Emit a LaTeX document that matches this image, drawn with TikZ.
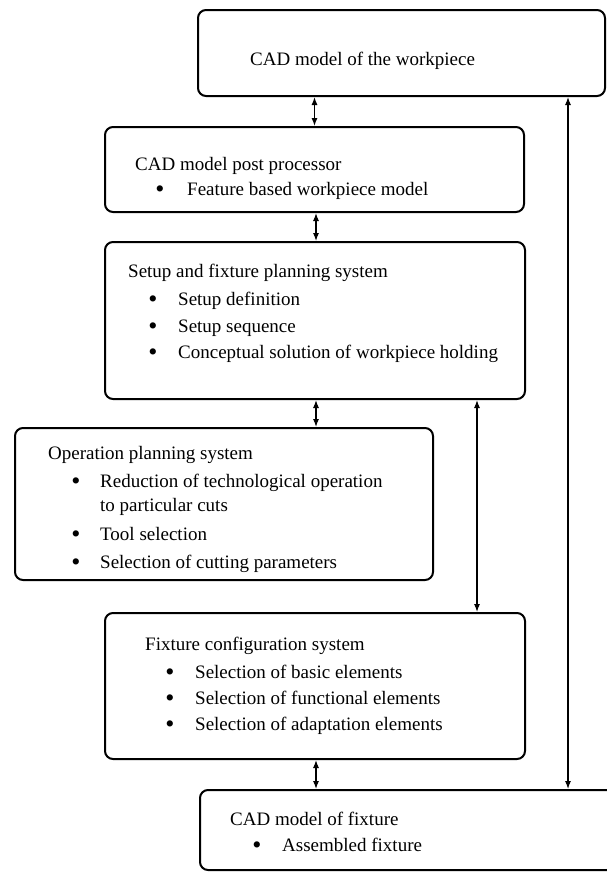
\documentclass[tikz,border=0pt]{standalone}
\usepackage{fontspec}
\setmainfont{Liberation Serif}
\usetikzlibrary{arrows.meta}
\begin{document}
\begin{tikzpicture}[x=1pt,y=-1pt,
  box/.style={draw, line width=2pt, rounded corners=8pt, inner sep=0pt, rectangle},
  txt/.style={anchor=base west, inner sep=0pt, font=\fontsize{19}{22}\selectfont},
  bul/.style={anchor=base, inner sep=0pt, font=\fontsize{26}{28}\selectfont, yshift=-2pt},
  dbl/.style={{Latex[length=8pt,width=6pt]}-{Latex[length=8pt,width=6pt]}, line width=1.1pt}]
\useasboundingbox (0,0) rectangle (607,873);
% boxes
\node[box, minimum width=407pt, minimum height=86pt] (A) at (401.5,53) {};
\node[box, minimum width=419pt, minimum height=85pt] (B) at (314.5,169.5) {};
\node[box, minimum width=420pt, minimum height=157pt] (C) at (315,320.5) {};
\node[box, minimum width=418pt, minimum height=152pt] (D) at (224,504) {};
\node[box, minimum width=420pt, minimum height=146pt] (E) at (315,686) {};
\node[box, minimum width=415pt, minimum height=80pt] (F) at (407.5,830) {};
% texts A
\node[txt] (a1) at (250,65) {CAD model of the workpiece};
% B
\node[txt] (b1) at (135,170) {CAD model post processor};
\node[bul] (bb1) at (160,195) {•};
\node[txt] (b2) at (187,195) {Feature based workpiece model};
% C
\node[txt] (c1) at (128,277) {Setup and fixture planning system};
\node[bul] (cb1) at (153,305) {•};
\node[txt] (c2) at (178,305) {Setup definition};
\node[bul] (cb2) at (153,332) {•};
\node[txt] (c3) at (178,332) {Setup sequence};
\node[bul] (cb3) at (153,358) {•};
\node[txt] (c4) at (178,358) {Conceptual solution of workpiece holding};
% D
\node[txt] (d1) at (48,459) {Operation planning system};
\node[bul] (db1) at (76,487) {•};
\node[txt] (d2) at (100,487) {Reduction of technological operation};
\node[txt] (d3) at (100,511) {to particular cuts};
\node[bul] (db2) at (76,540) {•};
\node[txt] (d4) at (100,540) {Tool selection};
\node[bul] (db3) at (76,568) {•};
\node[txt] (d5) at (100,568) {Selection of cutting parameters};
% E
\node[txt] (e1) at (145,650) {Fixture configuration system};
\node[bul] (eb1) at (170,678) {•};
\node[txt] (e2) at (195,678) {Selection of basic elements};
\node[bul] (eb2) at (170,704) {•};
\node[txt] (e3) at (195,704) {Selection of functional elements};
\node[bul] (eb3) at (170,730) {•};
\node[txt] (e4) at (195,730) {Selection of adaptation elements};
% F
\node[txt] (f1) at (230,825) {CAD model of fixture};
\node[bul] (fb1) at (257,851) {•};
\node[txt] (f2) at (282,851) {Assembled fixture};
% connectors
\draw[dbl] (A.south -| B.north) -- (B.north);
\draw[dbl] ([xshift=1.5pt]B.south) -- ([xshift=1.5pt]B.south |- C.north);
\draw[dbl] ([xshift=1pt]C.south) -- ([xshift=1pt]C.south |- D.north);
\draw[dbl] ([xshift=1pt]E.south) -- ([xshift=1pt]E.south |- F.north);
\draw[dbl] ([xshift=162pt]C.south) -- ([xshift=162pt]C.south |- E.north);
\draw[dbl] ([xshift=166.5pt]A.south) -- ([xshift=166.5pt]A.south |- F.north);
\end{tikzpicture}
\end{document}
